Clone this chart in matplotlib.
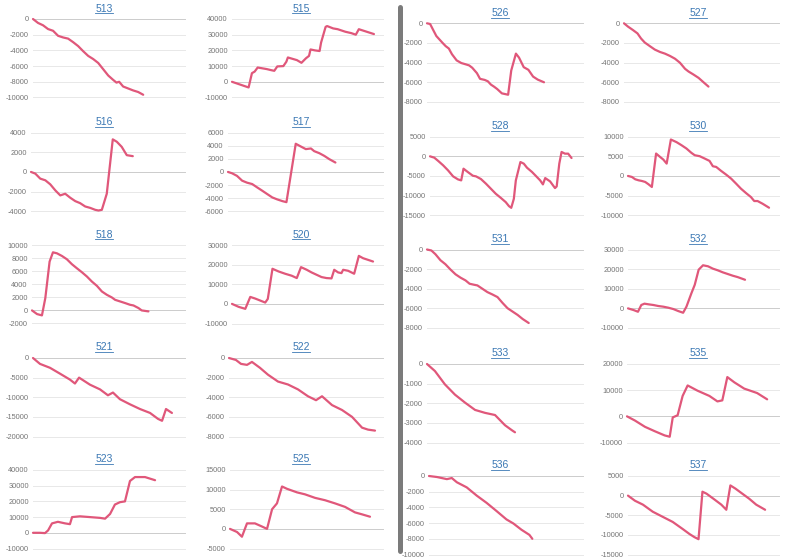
import numpy as np
import matplotlib.pyplot as plt
from matplotlib.lines import Line2D

plt.rcParams['font.family'] = ['Liberation Sans', 'DejaVu Sans']

# ---- data: x is the trading day (0..100 across the panel), y is the running P/L ----
x_513 = [0, 3.3, 6.6, 9.9, 13.2, 16.5, 19.8, 23.1, 26.4, 29.7, 33, 36.3, 39.6, 42.9, 46.2, 49.5, 52.7, 54.9, 56.7, 59.3, 62.6, 65.9, 69.2, 72.5]
y_513 = [0, -500, -800, -1280, -1500, -2140, -2350, -2500, -2950, -3450, -4100, -4700, -5100, -5600, -6400, -7200, -7750, -8100, -8000, -8600, -8850, -9100, -9300, -9650]
t_513 = [-10000, -8000, -6000, -4000, -2000, 0]

x_515 = [0, 11, 13.2, 15, 17, 23, 26, 28, 30, 34, 36, 37, 43, 46, 49, 51, 52, 55, 58, 59, 62, 63, 67, 70, 75, 79, 82, 84, 94]
y_515 = [0, -3600, 5500, 6500, 9100, 8100, 7400, 7000, 9800, 10000, 12800, 15500, 13800, 12100, 15000, 16500, 20600, 20000, 19600, 25000, 35000, 35500, 34000, 33500, 31900, 31000, 30000, 33500, 30400]
t_515 = [-10000, 0, 10000, 20000, 30000, 40000]

x_526 = [0, 2, 4, 6, 10, 12, 14, 16, 19, 22, 25, 27, 29, 32, 34, 37, 39, 41, 43, 45, 48, 52, 54, 57, 59, 62, 65, 68, 71, 75]
y_526 = [0, -70, -690, -1300, -2000, -2330, -2570, -3150, -3780, -4050, -4190, -4290, -4530, -5080, -5660, -5770, -5910, -6250, -6460, -6700, -7140, -7280, -4810, -3090, -3500, -4470, -4740, -5430, -5740, -6010]
t_526 = [-8000, -6000, -4000, -2000, 0]

x_527 = [0, 2.6, 5.8, 8.7, 11, 13.4, 16.7, 19.9, 23.2, 26.4, 29.7, 32.9, 36.1, 39.4, 41.6, 44.8, 48.1, 51.3, 54.5]
y_527 = [0, -340, -690, -1030, -1550, -1960, -2330, -2680, -2920, -3090, -3330, -3610, -4020, -4640, -4910, -5220, -5560, -6010, -6450]
t_527 = [-8000, -6000, -4000, -2000, 0]

x_516 = [0, 2.8, 6, 9.3, 12.5, 15.8, 19, 22.2, 25.5, 28.7, 31.9, 35.2, 38.4, 41.7, 43.8, 46, 49.2, 53.1, 55.7, 58.9, 62.2, 66.1]
y_516 = [0, -170, -680, -850, -1260, -1880, -2390, -2220, -2630, -2970, -3180, -3520, -3660, -3860, -3930, -3860, -2220, 3320, 3080, 2560, 1710, 1610]
t_516 = [-4000, -2000, 0, 2000, 4000]

x_517 = [0, 2.6, 5.8, 9.1, 12.3, 15.6, 18.8, 22.1, 25.3, 28.6, 31.8, 35.1, 37.7, 43.7, 46.9, 50.2, 53.5, 55.6, 58.9, 62.1, 65.4, 69.3]
y_517 = [0, -200, -600, -1330, -1640, -1850, -2360, -2870, -3380, -3900, -4200, -4460, -4620, 4310, 3900, 3490, 3590, 3180, 2870, 2460, 1950, 1440]
t_517 = [-6000, -4000, -2000, 0, 2000, 4000, 6000]

x_528 = [0, 2.8, 5.4, 8.6, 11.8, 15.1, 18.3, 20.4, 21.9, 24.7, 28, 30.1, 33.3, 36.6, 39.8, 43, 46.2, 49.5, 51.6, 53.1,
         54.8, 56.1, 59.1, 61.3, 63.4, 66.7, 69.9, 72, 73.8, 75.3, 78.5, 81.7, 82.8, 84.5, 86, 88.2, 90.3, 92.5]
y_528 = [0, -340, -1190, -2300, -3580, -5110, -5880, -6130, -3150, -4000, -4940, -5110, -5790, -6980, -8260, -9540, -10560, -11670, -12690, -13120,
         -10820, -6130, -1450, -1870, -2900, -4000, -5280, -6130, -7150, -5540, -6390, -8090, -7670, -1870, 1110, 680, 680, -430]
t_528 = [-15000, -10000, -5000, 0, 5000]

x_530 = [0, 2.6, 4.8, 7, 9.2, 11.4, 13.6, 15.8, 18.6, 21.2, 23.4, 25.6, 28.4, 32.2, 35.4, 38.7, 42, 44.2, 47.5, 50.8,
         54, 56.2, 58.4, 61.7, 65, 68.3, 71.6, 74.8, 78.1, 81.4, 83.6, 85.8, 89.1, 93.4]
y_530 = [0, -260, -850, -1110, -1280, -1530, -2130, -2810, 5710, 4860, 4170, 3150, 9280, 8600, 7840, 6990, 5880, 5280, 5030, 4430,
         3830, 2470, 2300, 1280, 340, -680, -1960, -3240, -4340, -5370, -6390, -6390, -7070, -8090]
t_530 = [-10000, -5000, 0, 5000, 10000]

x_518 = [0, 3.3, 6.5, 8.7, 11.5, 13.7, 16.3, 19.6, 22.8, 26.1, 29.3, 32.6, 35.9, 39.1, 42.4, 45.7, 48.9, 52.2, 54.3, 57.6, 60.9, 64.1, 66.3, 69.6, 71.7, 76.1]
y_518 = [0, -560, -760, 1880, 7460, 8880, 8730, 8320, 7820, 7060, 6450, 5840, 5180, 4420, 3760, 2890, 2390, 1980, 1620, 1370, 1120, 860, 760, 360, 0, -150]
t_518 = [-2000, 0, 2000, 4000, 6000, 8000, 10000]

x_520 = [0, 4.4, 8.8, 12.1, 15.4, 18.7, 22, 23.7, 26.8, 30.8, 35.2, 39.6, 42.9, 45.7, 49.5, 52.7, 56, 59.3, 62.6, 65.9,
         67.7, 70.3, 72.5, 73.6, 76.9, 80.9, 84, 86.8, 90.1, 93.4]
y_520 = [0, -1520, -2530, 3540, 2700, 1690, 670, 2530, 17880, 16530, 15350, 14330, 13150, 18720, 17370, 16020, 14840, 13660, 13150, 12980,
         17370, 16020, 15680, 17370, 16860, 15350, 24450, 23270, 22430, 21580]
t_520 = [-10000, 0, 10000, 20000, 30000]

x_531 = [0, 2.8, 5.4, 8.6, 11.8, 15.1, 18.3, 21.5, 24.7, 27.3, 30.1, 32.3, 35.5, 38.7, 41.9, 45.2, 48.4, 51.6, 54.8, 58.1, 61.3, 65.2]
y_531 = [0, -100, -480, -1090, -1500, -2050, -2530, -2870, -3150, -3490, -3590, -3660, -4000, -4340, -4580, -4850, -5440, -5980, -6320, -6670, -7080, -7490]
t_531 = [-8000, -6000, -4000, -2000, 0]

x_532 = [0, 3.7, 6.6, 8.8, 10.9, 13.6, 16.8, 20.1, 23.4, 26.7, 30, 33.3, 36.5, 38.7, 42, 44.2, 46.8, 49.7, 53, 56.2, 59.5, 62.8, 66.1, 69.4, 72.6, 77.5]
y_532 = [0, -860, -1720, 1720, 2400, 2060, 1720, 1200, 860, 340, -340, -1370, -2230, 860, 7720, 12010, 19730, 21960, 21440, 20240, 19380, 18350, 17500, 16640, 15950, 14580]
t_532 = [-10000, 0, 10000, 20000, 30000]

x_521 = [0, 4.6, 11.2, 17.8, 24.3, 27.6, 30.3, 37.5, 44.1, 49.3, 52.6, 57.2, 63.8, 70.4, 77, 82.2, 84.9, 87.5, 91.4]
y_521 = [0, -1500, -2500, -4000, -5500, -6500, -5000, -6800, -8000, -9500, -8800, -10500, -11800, -13000, -14000, -15500, -16000, -13000, -14000]
t_521 = [-20000, -15000, -10000, -5000, 0]

x_522 = [0, 4.5, 7.8, 11.7, 14.9, 20.1, 25.3, 31.8, 38.3, 44.8, 51.3, 56.5, 60.4, 66.9, 73.4, 79.9, 86.4, 90.3, 94.8]
y_522 = [0, -200, -600, -700, -400, -1000, -1700, -2400, -2700, -3200, -3900, -4300, -3900, -4800, -5300, -6000, -7100, -7300, -7400]
t_522 = [-8000, -6000, -4000, -2000, 0]

x_533 = [0, 5.1, 11.5, 17.9, 24.4, 30.8, 37.2, 43.6, 46.8, 50, 54.5, 56.4]
y_533 = [0, -360, -1040, -1560, -1970, -2340, -2490, -2600, -2860, -3120, -3380, -3480]
t_533 = [-4000, -3000, -2000, -1000, 0]

x_535 = [0, 5.2, 11.8, 18.3, 24.8, 28.1, 30.1, 33.3, 36.6, 39.9, 46.4, 54.2, 59.5, 62.7, 66, 70.6, 77.1, 85.6, 92.2]
y_535 = [0, -1600, -4000, -5700, -7300, -7800, -400, 400, 7800, 11800, 9800, 7800, 5700, 6100, 15000, 13000, 10600, 8900, 6500]
t_535 = [-10000, 0, 10000, 20000]

x_523 = [0, 4.6, 7.9, 9.9, 12.5, 16.4, 21.1, 24.3, 25.7, 30.9, 37.5, 44.1, 47.4, 50.7, 53.9, 57.2, 60.5, 63.8, 67.1, 73.7, 77, 80.3]
y_523 = [0, 0, -200, 1500, 6000, 7000, 6000, 5500, 10000, 10500, 10000, 9500, 9000, 12000, 18000, 19500, 20000, 33000, 35500, 35500, 34500, 33500]
t_523 = [-10000, 0, 10000, 20000, 30000, 40000]

x_525 = [0, 4.6, 7.8, 11.1, 16.3, 20.9, 24.2, 27.5, 30.7, 34, 37.3, 43.8, 49, 55.6, 62.1, 68.6, 75.2, 81.7, 86.3, 91.5]
y_525 = [0, -800, -2000, 1400, 1400, 600, 0, 5000, 6500, 10800, 10200, 9300, 8800, 7900, 7300, 6500, 5600, 4200, 3700, 3100]
t_525 = [-5000, 0, 5000, 10000, 15000]

x_536 = [0, 5.2, 11.6, 14.8, 18.1, 24.5, 31, 37.4, 43.9, 50.3, 54.8, 60, 65.2, 67.1]
y_536 = [0, -130, -400, -260, -800, -1450, -2500, -3420, -4470, -5530, -6050, -6840, -7500, -8000]
t_536 = [-10000, -8000, -6000, -4000, -2000, 0]

x_537 = [0, 4.6, 9.9, 16.4, 23, 29.6, 36.2, 40.8, 44.1, 46.7, 49.3, 52, 56.6, 61.8, 65.1, 67.8, 71.1, 75.7, 80.3, 84.9, 90.8]
y_537 = [0, -1300, -2300, -4100, -5400, -6700, -8500, -9800, -10600, -11100, 1000, 500, -800, -2300, -3600, 2600, 1800, 500, -800, -2300, -3600]
t_537 = [-15000, -10000, -5000, 0, 5000]

names = ["513", "515", "526", "527",
         "516", "517", "528", "530",
         "518", "520", "531", "532",
         "521", "522", "533", "535",
         "523", "525", "536", "537"]
series = [(x_513, y_513, t_513), (x_515, y_515, t_515), (x_526, y_526, t_526), (x_527, y_527, t_527),
          (x_516, y_516, t_516), (x_517, y_517, t_517), (x_528, y_528, t_528), (x_530, y_530, t_530),
          (x_518, y_518, t_518), (x_520, y_520, t_520), (x_531, y_531, t_531), (x_532, y_532, t_532),
          (x_521, y_521, t_521), (x_522, y_522, t_522), (x_533, y_533, t_533), (x_535, y_535, t_535),
          (x_523, y_523, t_523), (x_525, y_525, t_525), (x_536, y_536, t_536), (x_537, y_537, t_537)]

# ---- layout (pixels of an 800x560 canvas) ----
W, H = 800, 560
lefts = [33, 232, 427, 624,
         31, 228, 430, 628,
         32, 232, 427, 628,
         33, 229, 427, 627,
         33, 230, 429, 628]
rights = [185, 383, 583, 779]
tops_left = [19, 132.7, 245, 358, 470]
tops_right = [23.3, 136.7, 249.5, 364, 476]
title_x = [104, 301, 500, 698]
AH = 78.5

LINE = '#e0577a'
fig = plt.figure(figsize=(8, 5.6), dpi=100)

titles = []
for i, (name, (xs, ys, ticks)) in enumerate(zip(names, series)):
    row, col = divmod(i, 4)
    top = tops_left[row] if col < 2 else tops_right[row]
    left = lefts[i]
    ax = fig.add_axes([left / W, 1 - (top + AH) / H, (rights[col] - left) / W, AH / H])
    ax.plot(xs, ys, color=LINE, lw=1.6, solid_joinstyle='round', solid_capstyle='round', clip_on=False, zorder=3)
    ax.set_xlim(0, 100)
    ax.set_ylim(ticks[0], ticks[-1])
    ax.set_yticks(ticks)
    ax.set_yticklabels([str(t) for t in ticks])
    ax.set_xticks([])
    ax.tick_params(axis='y', length=0, pad=3, labelsize=5.3, labelcolor='#757575')
    for s in ax.spines.values():
        s.set_visible(False)
    for t in ticks:
        ax.axhline(t, color='#cccccc' if t == 0 else '#e8e8e8', lw=0.7, zorder=1, clip_on=False)
    tt = fig.text(title_x[col] / W, 1 - (top - 10.5) / H, name, ha='center', va='center',
                  fontsize=7.5, color='#3b78b4')
    titles.append(tt)

# underline the panel titles like links
fig.canvas.draw()
r = fig.canvas.get_renderer()
for tt in titles:
    bb = tt.get_window_extent(r)
    y = (bb.y0 + 0.3) / fig.bbox.height
    fig.add_artist(Line2D([bb.x0 / fig.bbox.width, bb.x1 / fig.bbox.width], [y, y],
                          color='#3b78b4', lw=0.6))

# vertical separator bar
fig.add_artist(Line2D([399.5 / W] * 2, [1 - 7 / H, 1 - 551 / H], color='#7b7b7b', lw=3.6,
                      solid_capstyle='round'))

fig.savefig('out.png', dpi=100)
